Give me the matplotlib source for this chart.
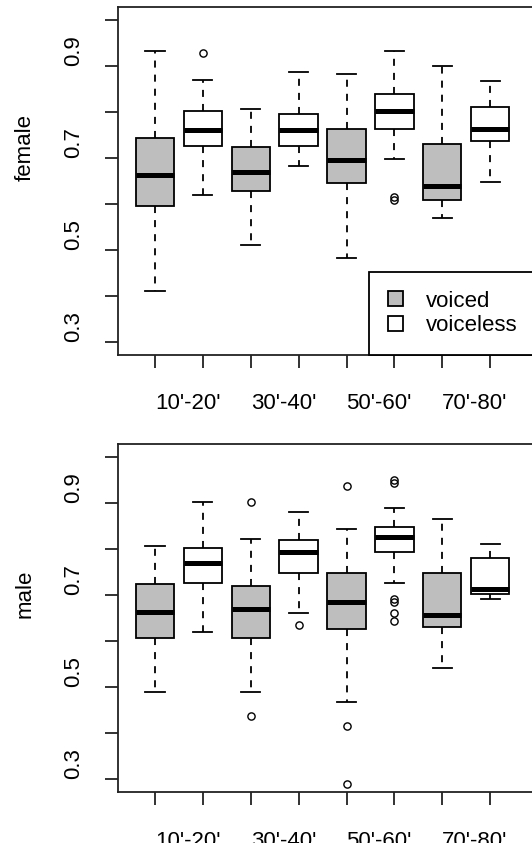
import matplotlib
matplotlib.use("Agg")
import matplotlib.pyplot as plt
import matplotlib.transforms as mtransforms
from matplotlib.patches import Patch

plt.rcParams['font.family'] = ['Liberation Sans', 'DejaVu Sans']

# ---------------- data ----------------
groups = ["10'-20'", "30'-40'", "50'-60'", "70'-80'"]
series = ["voiced", "voiceless"]
# box order: 10'-20' voiced, 10'-20' voiceless, 30'-40' voiced, ...
box_series = ["voiced", "voiceless"] * 4
box_positions = [1, 2, 3, 4, 5, 6, 7, 8]

female_whislo = [0.412, 0.620, 0.512, 0.683, 0.482, 0.698, 0.569, 0.648]
female_q1     = [0.597, 0.727, 0.629, 0.727, 0.645, 0.764, 0.610, 0.738]
female_med    = [0.664, 0.762, 0.670, 0.762, 0.695, 0.802, 0.639, 0.764]
female_q3     = [0.743, 0.802, 0.724, 0.796, 0.764, 0.839, 0.730, 0.811]
female_whishi = [0.934, 0.871, 0.806, 0.887, 0.884, 0.934, 0.900, 0.868]
female_fliers = [[], [0.928], [], [], [], [0.616, 0.609], [], []]

male_whislo = [0.489, 0.621, 0.489, 0.661, 0.469, 0.727, 0.542, 0.692]
male_q1     = [0.607, 0.727, 0.607, 0.749, 0.626, 0.795, 0.632, 0.702]
male_med    = [0.664, 0.771, 0.671, 0.793, 0.686, 0.827, 0.658, 0.714]
male_q3     = [0.724, 0.803, 0.721, 0.821, 0.748, 0.849, 0.749, 0.780]
male_whishi = [0.808, 0.903, 0.822, 0.880, 0.843, 0.890, 0.866, 0.812]
male_fliers = [[], [], [0.903, 0.438], [0.636], [0.937, 0.416, 0.291],
               [0.951, 0.944, 0.692, 0.685, 0.661, 0.645], [], []]

y_ticks = [0.3, 0.4, 0.5, 0.6, 0.7, 0.8, 0.9, 1.0]
y_labels = ["0.3", "0.5", "0.7", "0.9"]
y_label_values = [0.3, 0.5, 0.7, 0.9]

colors = {"voiced": "#BEBEBE", "voiceless": "white"}

# ---------------- layout ----------------
W, H = 532, 843
fig = plt.figure(figsize=(W / 100, H / 100), dpi=100)

left_px, right_px = 117.5, 538.0
panels = [
    ("female", 7.3, 355.0, female_whislo, female_q1, female_med, female_q3, female_whishi, female_fliers, True),
    ("male", 444.3, 792.3, male_whislo, male_q1, male_med, male_q3, male_whishi, male_fliers, False),
]

FS = 16
LW = 1.3
for name, top_px, bot_px, wlo, q1, med, q3, whi, fl, show_legend in panels:
    ax = fig.add_axes([left_px / W, 1 - bot_px / H, (right_px - left_px) / W, (bot_px - top_px) / H])
    stats = []
    for i in range(len(box_positions)):
        stats.append(dict(whislo=wlo[i], q1=q1[i], med=med[i], q3=q3[i], whishi=whi[i], fliers=fl[i]))
    bp = ax.bxp(stats, positions=box_positions, widths=0.8, capwidths=0.4,
                patch_artist=True, showfliers=True,
                boxprops=dict(edgecolor="black", linewidth=LW),
                medianprops=dict(color="black", linewidth=3.6, solid_capstyle="butt"),
                whiskerprops=dict(color="black", linewidth=LW, linestyle=(0, (3.9, 3.9))),
                capprops=dict(color="black", linewidth=LW),
                flierprops=dict(marker="o", markerfacecolor="none", markeredgecolor="black",
                                markersize=5.2, markeredgewidth=1.0, linestyle="none"))
    for patch, s in zip(bp["boxes"], box_series):
        patch.set_facecolor(colors[s])

    ax.set_xlim(0.2165, 9.0)
    ax.set_ylim(0.272, 1.028)
    ax.set_xticks(box_positions)
    ax.set_yticks(y_ticks)
    ax.tick_params(labelleft=False, labelbottom=False, direction="out", length=9.5, width=LW, color="#222222")
    for sp in ax.spines.values():
        sp.set_linewidth(LW)
        sp.set_color("#222222")

    # y tick labels (start at the tick, reading upward)
    ytr = ax.get_yaxis_transform() + mtransforms.ScaledTranslation(-43.5 / 100, 0, fig.dpi_scale_trans)
    for v, lab in zip(y_label_values, y_labels):
        ax.text(0, v, lab, transform=ytr, rotation=90, rotation_mode="anchor",
                ha="left", va="center", fontsize=FS, clip_on=False)
    # x tick labels (left aligned at the voiced box)
    xtr = ax.get_xaxis_transform() + mtransforms.ScaledTranslation(0, -54.3 / 100, fig.dpi_scale_trans)
    for gi, lab in enumerate(groups):
        ax.text(box_positions[2 * gi], 0, lab, transform=xtr, ha="left", va="baseline",
                fontsize=FS, clip_on=False)
    # panel label
    ltr = ax.transAxes + mtransforms.ScaledTranslation(-92 / 100, 0, fig.dpi_scale_trans)
    ax.text(0, 0.5, name, transform=ltr, rotation=90, rotation_mode="anchor",
            ha="left", va="center", fontsize=FS, clip_on=False)

    if show_legend:
        handles = [Patch(facecolor=colors[s], edgecolor="black", linewidth=LW, label=s) for s in series]
        ax_w = right_px - left_px
        ax_h = bot_px - top_px
        leg = ax.legend(handles=handles, loc="upper left",
                        bbox_to_anchor=((369 - left_px) / ax_w, (bot_px - 271.7) / ax_h),
                        borderaxespad=0, fontsize=FS, fancybox=False, framealpha=1,
                        edgecolor="black", handlelength=0.69, handleheight=0.65,
                        handletextpad=1.0, labelspacing=0.15, borderpad=0.85)
        leg.get_frame().set_linewidth(LW)

fig.savefig("out.png", dpi=100)
